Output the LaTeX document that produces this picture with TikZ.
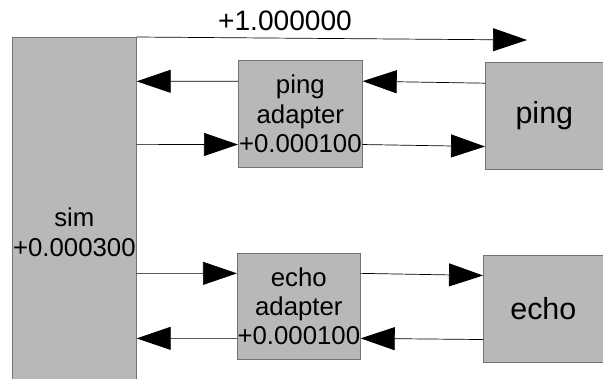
\documentclass[tikz,border=0pt]{standalone}
\usepackage{fontspec}
\setmainfont{Liberation Sans}
\usetikzlibrary{arrows.meta,positioning}
\tikzstyle{block} = [draw=black!55, fill=black!28, line width=0.6pt, inner sep=0pt, align=center, anchor=north west]
\tikzstyle{arrow} = [line width=0.6pt, -{Triangle[length=1.02cm,width=0.69cm]}]

\begin{document}
\begin{tikzpicture}[x=0.03cm,y=-0.03cm]
\useasboundingbox (0,0) rectangle (603,378);
%boxes
\node[block, minimum width=3.72cm, minimum height=11.7cm, font=\fontsize{22}{25}\selectfont] (sim) at (12,37) {sim\\+0.000300};
\node[block, minimum width=3.72cm, minimum height=3.21cm, font=\fontsize{22}{25}\selectfont] (pingad) at (238,60) {ping\\adapter\\+0.000100};
\node[block, minimum width=3.54cm, minimum height=3.21cm, font=\fontsize{26}{30}\selectfont] (ping) at (485,62) {ping};
\node[block, minimum width=3.69cm, minimum height=3.18cm, font=\fontsize{22}{25}\selectfont] (echoad) at (237,253) {echo\\adapter\\+0.000100};
\node[block, minimum width=3.6cm, minimum height=3.21cm, font=\fontsize{26}{30}\selectfont] (echo) at (483,255) {echo};
\coordinate (topend) at (527,40);

%top
\draw[arrow] (sim.north east) -- node[pos=0.38, above, inner sep=6pt, font=\fontsize{24}{28}\selectfont] {+1.000000} (topend);
%ping side
\draw[arrow] ([yshift=0.98cm]ping.west) -- ([yshift=0.98cm]pingad.east);
\draw[arrow] ([yshift=0.98cm]pingad.west) -- ([yshift=4.53cm]sim.east);
\draw[arrow] ([yshift=2.64cm]sim.east) -- ([yshift=-0.92cm]pingad.west);
\draw[arrow] ([yshift=-0.92cm]pingad.east) -- ([yshift=-0.92cm]ping.west);
%echo side
\draw[arrow] ([yshift=-1.23cm]sim.east) -- ([yshift=0.99cm]echoad.west);
\draw[arrow] ([yshift=0.99cm]echoad.east) -- ([yshift=1.0cm]echo.west);
\draw[arrow] ([yshift=-0.92cm]echo.west) -- ([yshift=-0.96cm]echoad.east);
\draw[arrow] ([yshift=-0.96cm]echoad.west) -- ([yshift=-3.18cm]sim.east);
\end{tikzpicture}
\end{document}
